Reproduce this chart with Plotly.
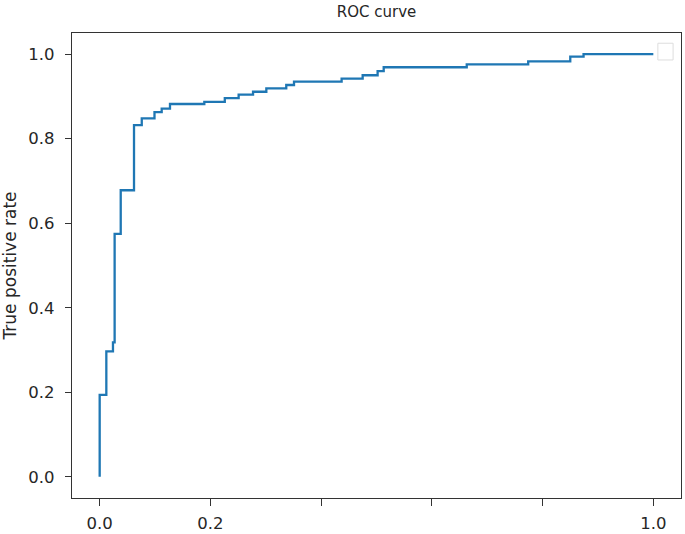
import plotly.graph_objects as go

# ROC curve data (false positive rate, true positive rate)
fpr = [0.0, 0.0, 0.012, 0.024, 0.027, 0.038, 0.062, 0.076, 0.099, 0.112, 0.127,
       0.189, 0.226, 0.251, 0.277, 0.301, 0.337, 0.351, 0.437, 0.475, 0.502,
       0.513, 0.663, 0.774, 0.850, 0.874, 1.0]
tpr = [0.0, 0.194, 0.297, 0.318, 0.575, 0.678, 0.832, 0.848, 0.863, 0.871, 0.882,
       0.887, 0.896, 0.904, 0.911, 0.919, 0.927, 0.935, 0.942, 0.950, 0.960,
       0.969, 0.976, 0.983, 0.994, 1.0, 1.0]

x_tickvals = [0.0, 0.2, 0.4, 0.6, 0.8, 1.0]
x_ticktext = ["0.0", "0.2", "", "", "", "1.0"]
y_tickvals = [0.0, 0.2, 0.4, 0.6, 0.8, 1.0]
y_ticktext = ["0.0", "0.2", "0.4", "0.6", "0.8", "1.0"]

title_text = "ROC curve"
y_label = "True positive rate"

FONT = "DejaVu Sans, sans-serif"
TXT = "#262626"

fig = go.Figure()
fig.add_trace(go.Scatter(
    x=fpr, y=tpr, mode="lines", line=dict(color="#1f77b4", width=2.3, shape="hv"),
    showlegend=False, hoverinfo="skip"))

fig.update_layout(
    width=685, height=534,
    margin=dict(l=72, r=4, t=33, b=36, autoexpand=False),
    paper_bgcolor="white", plot_bgcolor="white",
    font=dict(family=FONT, size=16, color=TXT),
    title=dict(text=title_text, x=(72 + 681) / 2 / 685, xanchor="center",
               y=1 - 12 / 534, yanchor="middle", font=dict(size=15, family=FONT, color=TXT)),
    showlegend=False,
)

fig.update_xaxes(
    range=[-0.05, 1.05], tickvals=x_tickvals, ticktext=x_ticktext,
    showgrid=False, zeroline=False, showline=True, mirror=True,
    linecolor="#333333", linewidth=1.3,
    ticks="outside", ticklen=7, tickwidth=1.3, tickcolor="#333333",
    ticklabelstandoff=3,
    tickfont=dict(size=16.5, family=FONT, color=TXT),
)
fig.update_yaxes(
    range=[-0.05, 1.05], tickvals=y_tickvals, ticktext=y_ticktext,
    showgrid=False, zeroline=False, showline=True, mirror=True,
    linecolor="#333333", linewidth=1.3,
    ticks="outside", ticklen=6, tickwidth=1.3, tickcolor="#333333",
    ticklabelstandoff=7,
    tickfont=dict(size=16.5, family=FONT, color=TXT),
    title=dict(text=y_label, font=dict(size=17, family=FONT, color=TXT), standoff=8),
)

# empty legend frame in the upper right corner
fig.add_shape(type="rect", xref="paper", yref="paper",
              x0=0.962, x1=0.987, y0=0.942, y1=0.978,
              line=dict(color="#dddddd", width=1), fillcolor="white")

fig.write_html("out.html", config={"displayModeBar": False},
               post_script="document.body.style.margin='0';")
